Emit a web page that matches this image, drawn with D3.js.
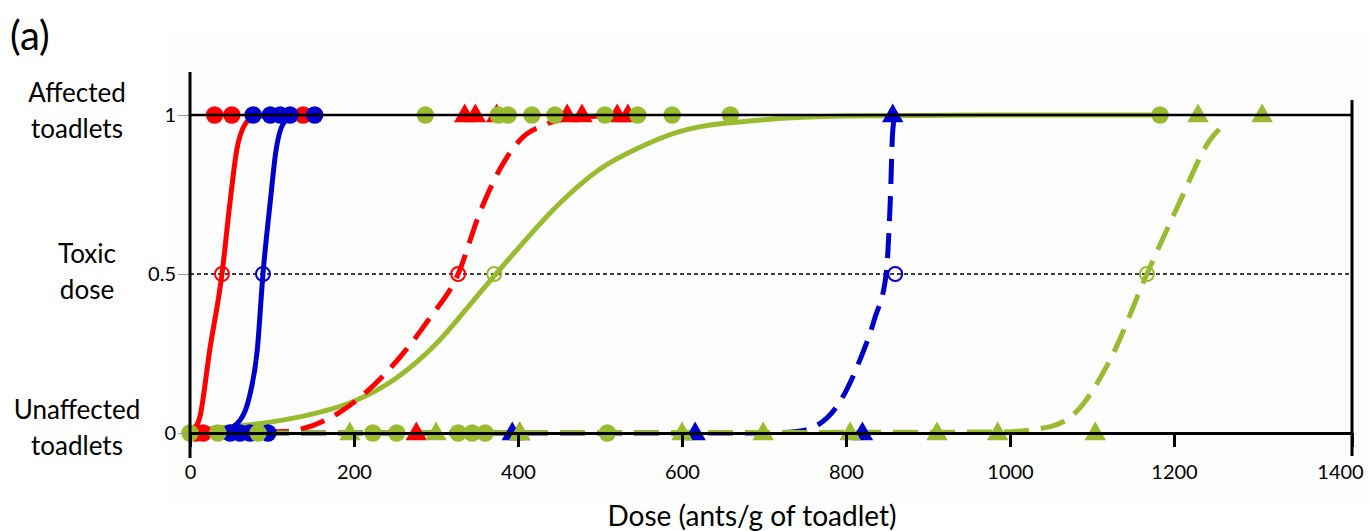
<!DOCTYPE html>
<html>
<head>
<meta charset="utf-8">
<script src="https://cdn.jsdelivr.net/npm/d3@7"></script>
<style>
  body { margin: 0; background: #fff; }
  svg { display: block; font-family: Lato, "Open Sans", sans-serif; }
</style>
</head>
<body>
<div class="chart"></div>
<script>
const width = 1369;
const height = 531;

// axis ticks / labels
const xTicks = [0, 200, 400, 600, 800, 1000, 1200, 1400];
const yTicks = [0, 0.5, 1];
const yTickLabels = ['0', '0.5', '1'];
const xAxisLabel = 'Dose (ants/g of toadlet)';
const panelLabel = '(a)';

// red circles (solid red curve)
const redCircAffected = [30, 51, 138];
const redCircUnaffected = [7, 16];
// blue circles (solid blue curve)
const blueCircAffected = [77, 98, 110, 122, 152];
const blueCircUnaffected = [49, 61, 73, 95];
// green circles (solid green curve)
const greenCircAffected = [287, 376, 388, 417, 445, 506, 546, 588, 659, 1183];
const greenCircUnaffected = [0, 34, 83, 223, 252, 327, 344, 360, 509];
// red triangles (dashed red curve)
const redTriAffected = [335, 348, 374, 460, 478, 521, 534];
const redTriUnaffected = [276, 402];
// blue triangles (dashed blue curve)
const blueTriAffected = [857];
const blueTriUnaffected = [393, 616, 820];
// green triangles (dashed green curve)
const greenTriAffected = [1227, 1299];
const greenTriUnaffected = [195, 300, 402, 600, 699, 805, 911, 985, 1104];

// fitted curves as [dose, proportion affected]
const redSolidCurve = [[0, 0.005], [4, 0.01], [12, 0.05], [24, 0.26], [39, 0.5], [49, 0.73], [57, 0.89], [67, 0.97], [79, 0.995], [140, 1]];
const blueSolidCurve = [[0, 0], [43, 0.01], [61, 0.04], [73, 0.12], [82, 0.26], [89, 0.5], [98, 0.73], [105, 0.89], [116, 0.98], [134, 1], [155, 1]];
const redDashCurve = [[0, 0], [116, 0.005], [183, 0.066], [243, 0.2], [292, 0.36], [327, 0.5], [353, 0.69], [378, 0.83], [402, 0.92], [433, 0.97], [463, 0.99], [540, 1]];
const greenSolidCurve = [[0, 0.01], [50, 0.02], [100, 0.035], [150, 0.06], [200, 0.1], [250, 0.17], [300, 0.28], [350, 0.43], [400, 0.58], [450, 0.72], [500, 0.83], [550, 0.9], [600, 0.95], [700, 0.985], [800, 0.997], [1000, 1], [1183, 1]];
const blueDashCurve = [[0, 0], [700, 0], [740, 0.005], [762, 0.02], [793, 0.1], [817, 0.23], [835, 0.36], [849, 0.5], [854, 0.73], [857, 0.95], [860, 1]];
const greenDashCurve = [[0, 0], [988, 0.003], [1049, 0.02], [1082, 0.07], [1122, 0.23], [1167, 0.5], [1207, 0.73], [1240, 0.92], [1261, 0.98]];

// toxic dose (50 %) markers
const toxicDoses = [39, 89, 327, 371, 860, 1167];
const toxicColors = ['red', 'blue', 'red', 'green', 'blue', 'green'];

const colors = { red: '#ff0000', blue: '#0000cc', green: '#99bb2f' };

const svg = d3.select('.chart')
  .append('svg')
  .attr('width', width)
  .attr('height', height);

// x scale: the original axis is slightly stretched past 1200
const x = d3.scaleLinear()
  .domain([0, 1200, 1400])
  .range([190, 1174, 1352]);
const y = d3.scaleLinear()
  .domain([0, 1])
  .range([433, 115]);

// very faint panel background
svg.append('rect')
  .attr('x', 173).attr('y', 33)
  .attr('width', width - 173).attr('height', 470)
  .attr('fill', '#fdfdfd');

// dotted line at toxic dose
svg.append('line')
  .attr('x1', x(0)).attr('x2', x(1400))
  .attr('y1', y(0.5)).attr('y2', y(0.5))
  .attr('stroke', '#000').attr('stroke-width', 1.5)
  .attr('stroke-dasharray', '4,3');

const line = d3.line()
  .x(d => x(d[0]))
  .y(d => y(d[1]))
  .curve(d3.curveMonotoneX);

const curves = [
  { pts: greenSolidCurve, c: 'green', dash: null },
  { pts: redSolidCurve, c: 'red', dash: null },
  { pts: blueSolidCurve, c: 'blue', dash: null },
  { pts: redDashCurve, c: 'red', dash: '25,12' },
  { pts: blueDashCurve, c: 'blue', dash: '25,12' },
  { pts: greenDashCurve, c: 'green', dash: '25,12' }
];

svg.append('g').selectAll('path')
  .data(curves)
  .enter().append('path')
  .attr('d', d => line(d.pts))
  .attr('fill', 'none')
  .attr('stroke', d => colors[d.c])
  .attr('stroke-width', 5)
  .attr('stroke-dasharray', d => d.dash);

// markers
const groups = [
  { aff: redCircAffected, un: redCircUnaffected, c: 'red', shape: 'circle' },
  { aff: redTriAffected, un: redTriUnaffected, c: 'red', shape: 'tri' },
  { aff: blueCircAffected, un: blueCircUnaffected, c: 'blue', shape: 'circle' },
  { aff: blueTriAffected, un: blueTriUnaffected, c: 'blue', shape: 'tri' },
  { aff: greenCircAffected, un: greenCircUnaffected, c: 'green', shape: 'circle' },
  { aff: greenTriAffected, un: greenTriUnaffected, c: 'green', shape: 'tri' }
];

const circleSym = d3.symbol().type(d3.symbolCircle).size(240);
const triSym = d3.symbol().type(d3.symbolTriangle).size(200);

groups.forEach(g => {
  const pts = g.aff.map(d => [d, 1]).concat(g.un.map(d => [d, 0]));
  svg.append('g').selectAll('path')
    .data(pts)
    .enter().append('path')
    .attr('d', g.shape === 'circle' ? circleSym : triSym)
    .attr('transform', d => `translate(${x(d[0])},${y(d[1]) + (g.shape === 'tri' ? 1 : 0)})`)
    .attr('fill', colors[g.c]);
});

// open circles at toxic dose
svg.append('g').selectAll('circle')
  .data(toxicDoses)
  .enter().append('circle')
  .attr('cx', d => x(d))
  .attr('cy', y(0.5))
  .attr('r', 7)
  .attr('fill', 'none')
  .attr('stroke', (d, i) => colors[toxicColors[i]])
  .attr('stroke-width', 2);

// black reference line at 1
svg.append('line')
  .attr('x1', x(0)).attr('x2', x(1400))
  .attr('y1', y(1)).attr('y2', y(1))
  .attr('stroke', '#000').attr('stroke-width', 2.5);

// x axis
const xAxis = d3.axisBottom(x)
  .tickValues(xTicks)
  .tickSize(14)
  .tickSizeOuter(0)
  .tickFormat(d3.format('d'));

const gx = svg.append('g')
  .attr('transform', `translate(0,${y(0)})`)
  .call(xAxis);
gx.select('.domain').attr('stroke-width', 3);
gx.selectAll('.tick line').attr('stroke-width', 3);
gx.selectAll('.tick text')
  .attr('y', 32)
  .attr('dx', d => d === 1400 ? -12 : 0)
  .attr('font-size', 20)
  .attr('font-family', 'Lato, sans-serif')
  .attr('fill', '#000');

// y axis
const yAxis = d3.axisLeft(y)
  .tickValues(yTicks)
  .tickSize(12)
  .tickSizeOuter(0)
  .tickFormat((d, i) => yTickLabels[i]);

const gy = svg.append('g')
  .attr('transform', `translate(${x(0)},0)`)
  .call(yAxis);
gy.select('.domain').remove();
gy.selectAll('.tick line').attr('stroke', '#999').attr('stroke-width', 1);
gy.selectAll('.tick text')
  .attr('x', -14)
  .attr('font-size', 20)
  .attr('font-family', 'Lato, sans-serif')
  .attr('fill', '#000');

// vertical axis lines
svg.append('line')
  .attr('x1', x(0)).attr('x2', x(0))
  .attr('y1', 72).attr('y2', 458)
  .attr('stroke', '#000').attr('stroke-width', 3);
svg.append('line')
  .attr('x1', x(1400)).attr('x2', x(1400))
  .attr('y1', 100).attr('y2', 456)
  .attr('stroke', '#000').attr('stroke-width', 3);

// row labels on the left
const rowLabels = [
  { lines: ['Affected', 'toadlets'], cx: 77, y0: 102 },
  { lines: ['Toxic', 'dose'], cx: 87, y0: 263 },
  { lines: ['Unaffected', 'toadlets'], cx: 77, y0: 419 }
];
rowLabels.forEach(r => {
  const t = svg.append('text')
    .attr('text-anchor', 'middle')
    .attr('font-size', 26)
    .attr('fill', '#000');
  r.lines.forEach((s, i) => {
    t.append('tspan')
      .attr('x', r.cx)
      .attr('y', r.y0 + i * 36)
      .text(s);
  });
});

// x axis title
svg.append('text')
  .attr('x', 752)
  .attr('y', 526)
  .attr('text-anchor', 'middle')
  .attr('font-size', 28)
  .attr('fill', '#000')
  .text(xAxisLabel);

// panel label
svg.append('text')
  .attr('x', 10)
  .attr('y', 50)
  .attr('font-size', 40)
  .attr('fill', '#000')
  .text(panelLabel);
</script>
</body>
</html>
